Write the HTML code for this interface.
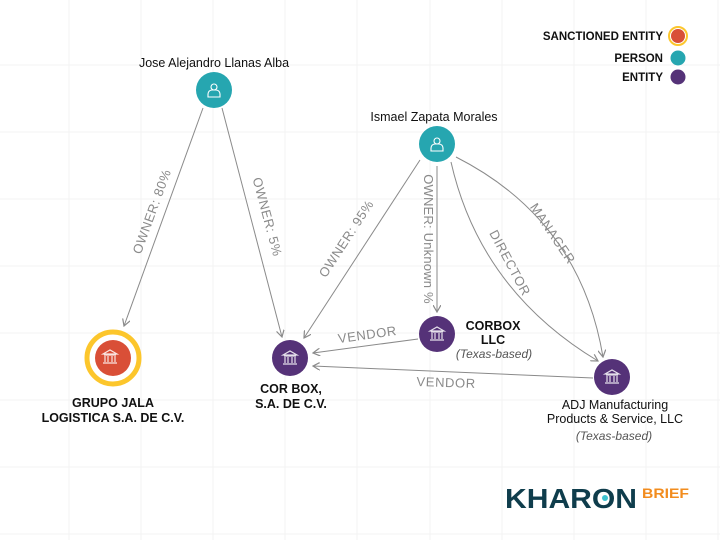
<!DOCTYPE html>
<html><head><meta charset="utf-8"><style>
html,body{margin:0;padding:0;background:#fff;}
svg{display:block;font-family:"Liberation Sans",sans-serif;}
</style></head><body>
<svg width="720" height="540" viewBox="0 0 720 540" xmlns="http://www.w3.org/2000/svg">
<defs>
<marker id="a" markerWidth="8" markerHeight="8" refX="7" refY="4" orient="auto" markerUnits="userSpaceOnUse">
<path d="M0,0 L7,4 L0,8" fill="none" stroke="#8a8a8a" stroke-width="1.2"/>
</marker>
<g id="bank"><path d="M-7,-3 L0,-7 L7,-3 Z M-6,-2 h12 M-5,-1 v6 M-2,-1 v6 M2,-1 v6 M5,-1 v6 M-7,6 h14" fill="none" stroke="#fff" stroke-width="1.2" opacity="0.85"/></g>
<g id="pers"><circle cx="0" cy="-3" r="3" fill="none" stroke="#fff" stroke-width="1.1"/><path d="M-6,7 v-3 a4,4 0 0 1 4,-4 h4 a4,4 0 0 1 4,4 v3 z" fill="none" stroke="#fff" stroke-width="1.1"/></g>
</defs>
<g stroke="#f3f3f3" stroke-width="1">
<line x1="69" y1="0" x2="69" y2="540"/><line x1="141" y1="0" x2="141" y2="540"/><line x1="213" y1="0" x2="213" y2="540"/><line x1="285" y1="0" x2="285" y2="540"/><line x1="357" y1="0" x2="357" y2="540"/><line x1="430" y1="0" x2="430" y2="540"/><line x1="502" y1="0" x2="502" y2="540"/><line x1="574" y1="0" x2="574" y2="540"/><line x1="646" y1="0" x2="646" y2="540"/><line x1="718" y1="0" x2="718" y2="540"/>
<line x1="0" y1="65" x2="720" y2="65"/><line x1="0" y1="132" x2="720" y2="132"/><line x1="0" y1="199" x2="720" y2="199"/><line x1="0" y1="266" x2="720" y2="266"/><line x1="0" y1="333" x2="720" y2="333"/><line x1="0" y1="400" x2="720" y2="400"/><line x1="0" y1="467" x2="720" y2="467"/><line x1="0" y1="534" x2="720" y2="534"/>
</g>
<g stroke="#8a8a8a" stroke-width="1" fill="none" marker-end="url(#a)">
<line x1="203" y1="108" x2="124" y2="326"/>
<line x1="222" y1="108" x2="282" y2="337"/>
<line x1="420" y1="160" x2="304" y2="338"/>
<line x1="437" y1="166" x2="437" y2="312"/>
<path d="M451,162 Q480,290 598,361"/>
<path d="M456,157 Q580,220 603,357"/>
<line x1="418" y1="339" x2="313" y2="353"/>
<line x1="593" y1="378" x2="313" y2="366"/>
</g>
<g fill="#8a8a8a" font-size="13" letter-spacing="0.6" text-anchor="middle">
<text transform="translate(156,213) rotate(-70)">OWNER: 80%</text>
<text transform="translate(263,218) rotate(75)">OWNER: 5%</text>
<text transform="translate(350,241) rotate(-57)">OWNER: 95%</text>
<text transform="translate(424,239) rotate(90)" letter-spacing="0.2">OWNER: Unknown %</text>
<text transform="translate(506,265) rotate(62)">DIRECTOR</text>
<text transform="translate(549,236) rotate(56)">MANAGER</text>
<text transform="translate(368,339) rotate(-8)">VENDOR</text>
<text transform="translate(446,387) rotate(2)">VENDOR</text>
</g>
<circle cx="113" cy="358" r="26" fill="none" stroke="#fcc62c" stroke-width="5"/>
<circle cx="113" cy="358" r="18" fill="#d94f37"/>
<use href="#bank" x="110" y="357"/>
<circle cx="290" cy="358" r="18" fill="#553278"/><use href="#bank" x="290" y="358"/>
<circle cx="437" cy="334" r="18" fill="#553278"/><use href="#bank" x="437" y="334"/>
<circle cx="612" cy="377" r="18" fill="#553278"/><use href="#bank" x="612" y="377"/>
<circle cx="214" cy="90" r="18" fill="#26a6b0"/><use href="#pers" x="214" y="90"/>
<circle cx="437" cy="144" r="18" fill="#26a6b0"/><use href="#pers" x="437" y="144"/>
<g fill="#111" font-size="12.5" text-anchor="middle">
<text x="214" y="67">Jose Alejandro Llanas Alba</text>
<text x="434" y="121">Ismael Zapata Morales</text>
</g>
<g fill="#111" font-size="12.5" font-weight="bold" text-anchor="middle">
<text x="113" y="407">GRUPO JALA</text>
<text x="113" y="422">LOGISTICA S.A. DE C.V.</text>
<text x="291" y="393">COR BOX,</text>
<text x="291" y="408">S.A. DE C.V.</text>
<text x="493" y="330">CORBOX</text>
<text x="493" y="344">LLC</text>
</g>
<text x="494" y="358" font-size="12" font-style="italic" fill="#555" text-anchor="middle">(Texas-based)</text>
<g fill="#111" font-size="12.5" text-anchor="middle">
<text x="615" y="409">ADJ Manufacturing</text>
<text x="615" y="423">Products &amp; Service, LLC</text>
</g>
<text x="614" y="440" font-size="12" font-style="italic" fill="#555" text-anchor="middle">(Texas-based)</text>
<g font-size="11.5" font-weight="bold" fill="#111" text-anchor="end">
<text x="663" y="40">SANCTIONED ENTITY</text>
<text x="663" y="62">PERSON</text>
<text x="663" y="81">ENTITY</text>
</g>
<circle cx="678" cy="36" r="9" fill="none" stroke="#fcc62c" stroke-width="2"/>
<circle cx="678" cy="36" r="7" fill="#d94f37"/>
<circle cx="678" cy="58" r="7.5" fill="#26a6b0"/>
<circle cx="678" cy="77" r="7.5" fill="#553278"/>
<text x="505" y="508" font-size="28" font-weight="bold" fill="#0f3d4c" textLength="132" lengthAdjust="spacingAndGlyphs">KHARON</text>
<circle cx="605" cy="498" r="3" fill="#3ec3d0"/>
<text x="642" y="498" font-size="14" font-weight="bold" fill="#f28c1e" textLength="47" lengthAdjust="spacingAndGlyphs">BRIEF</text>
</svg>
</body></html>
